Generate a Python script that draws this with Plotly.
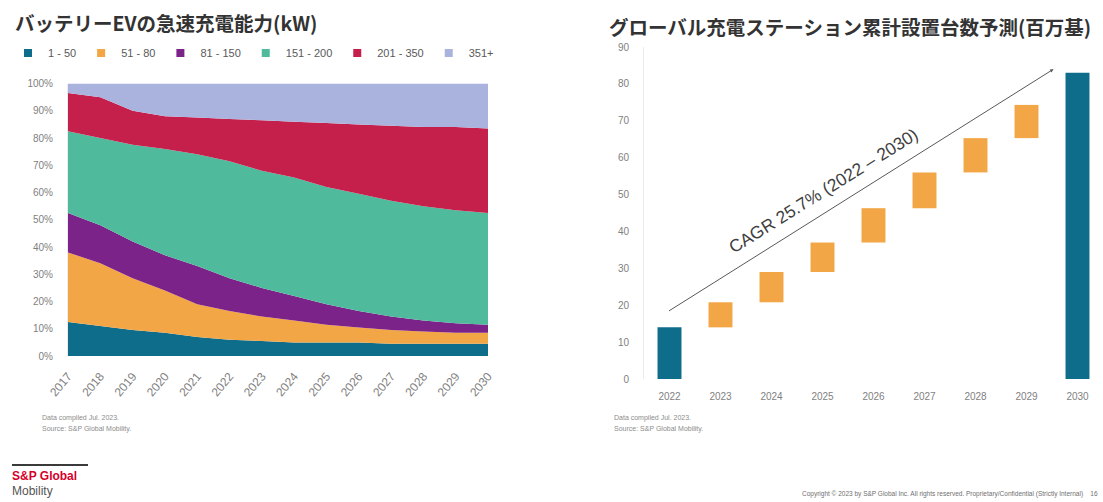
import plotly.graph_objects as go

# ---- Left: share of BEV models by DC fast-charging power (kW) ----
years = [str(y) for y in range(2017, 2031)]
band_labels = ["1 - 50", "51 - 80", "81 - 150", "151 - 200", "201 - 350", "351+"]
band_colors = ["#0f6d8c", "#f3a646", "#7b2388", "#4fbb9c", "#c51f4c", "#aab3dd"]

share_1_50 = [12.5, 11, 9.5, 8.5, 7, 6, 5.5, 5, 5, 5, 4.5, 4.5, 4.5, 4.5]
share_51_80 = [25.5, 23, 19, 15.5, 12, 10.5, 9, 8, 6.5, 5.5, 5, 4.5, 4, 4]
share_81_150 = [14.5, 14, 13.5, 13, 14, 12, 10.5, 9, 7.5, 6, 5, 4, 3.5, 3]
share_151_200 = [30, 32, 35.5, 39, 41, 43, 43, 43.5, 43, 43, 42.5, 42, 41.5, 41]
share_201_350 = [14, 15, 12.5, 12, 13.5, 15.5, 18.5, 20.5, 23.5, 25.5, 27.5, 29, 30.5, 31]
share_351_up = [3.5, 5, 10, 12, 12.5, 13, 13.5, 14, 14.5, 15, 15.5, 16, 16, 16.5]
shares = [share_1_50, share_51_80, share_81_150, share_151_200, share_201_350, share_351_up]
pct_ticks = list(range(0, 101, 10))
pct_labels = [f"{v}%" for v in pct_ticks]

# ---- Right: cumulative global charging stations (millions) ----
station_years = ["2022", "2023", "2024", "2025", "2026", "2027", "2028", "2029", "2030"]
station_totals = [14, 20.8, 29, 37, 46.3, 56, 65.3, 74.3, 83]
station_ticks = list(range(0, 91, 10))
cagr_text = "CAGR 25.7% (2022 – 2030)"

W, H = 1103, 502
px = lambda x: x / W
py = lambda y: 1 - y / H

TEAL = "#0f6d8c"
ORANGE = "#f3a646"
GRAY = "#7f7f7f"
FONT = "Noto Sans CJK JP"


def note(fig, x, y, text, size, color, family="Liberation Sans", xanchor="left", **kw):
    fig.add_annotation(
        x=px(x), y=py(y), xref="paper", yref="paper",
        xanchor=xanchor, yanchor="middle", text=text, showarrow=False,
        font=dict(family=family, size=size, color=color), **kw,
    )


fig = go.Figure()

for label, color, vals in zip(band_labels, band_colors, shares):
    fig.add_trace(go.Scatter(
        x=years, y=vals, stackgroup="share", mode="none",
        fillcolor=color, name=label, showlegend=False,
        xaxis="x", yaxis="y", hoverinfo="x+y+name",
    ))
    # small square swatch for the legend
    fig.add_trace(go.Scatter(
        x=[None], y=[None], mode="markers", name=label,
        marker=dict(symbol="square", size=8, color=color),
        xaxis="x", yaxis="y", showlegend=True,
    ))

# waterfall-style bars: first and last are totals, the rest are yearly increments
bar_base, bar_len, bar_col = [], [], []
for i, total in enumerate(station_totals):
    if i == 0 or i == len(station_totals) - 1:
        bar_base.append(0)
        bar_len.append(total)
        bar_col.append(TEAL)
    else:
        bar_base.append(station_totals[i - 1])
        bar_len.append(total - station_totals[i - 1])
        bar_col.append(ORANGE)

fig.add_trace(go.Bar(
    x=station_years, y=bar_len, base=bar_base, marker_color=bar_col,
    marker_line_width=0, width=0.47, showlegend=False,
    xaxis="x2", yaxis="y2",
))

# CAGR guide line with arrow
fig.add_annotation(
    x=len(station_years) - 1.47, y=station_totals[-1] + 1,
    ax=-0.04, ay=station_totals[0] + 4.2,
    xref="x2", yref="y2", axref="x2", ayref="y2",
    text="", showarrow=True, arrowhead=2, arrowsize=0.7,
    arrowwidth=1, arrowcolor="#595959",
)
note(fig, 823, 191, cagr_text, 17.5, "#404040", xanchor="center", textangle=-32)

# titles
note(fig, 13, 23, "<b>バッテリーEVの急速充電能力(kW)</b>", 19.5, "#333333", family=FONT)
note(fig, 607, 27, "<b>グローバル充電ステーション累計設置台数予測(百万基)</b>", 19.5, "#333333", family=FONT)

# source notes
for x0 in (40, 612):
    note(fig, x0, 418, "Data compiled Jul. 2023.", 7, "#8c8c8c")
    note(fig, x0, 429, "Source: S&amp;P Global Mobility.", 7, "#8c8c8c")

# logo block
fig.add_shape(type="line", xref="paper", yref="paper",
              x0=px(12), x1=px(88), y0=py(465), y1=py(465),
              line=dict(color="#3a3a3a", width=2))
note(fig, 10, 476, "<b>S&amp;P Global</b>", 12, "#d6002a")
note(fig, 10, 491, "Mobility", 12, "#555555")
note(fig, 1100, 494,
     "Copyright © 2023 by S&amp;P Global Inc. All rights reserved. Proprietary/Confidential (Strictly Internal)&nbsp;&nbsp;&nbsp;&nbsp;16",
     6.5, "#6f6f6f", xanchor="right")

fig.update_layout(
    width=W, height=H,
    margin=dict(l=0, r=0, t=0, b=0, autoexpand=False),
    paper_bgcolor="white", plot_bgcolor="white",
    font=dict(family=FONT, color=GRAY),
    legend=dict(
        orientation="h", x=px(8), y=py(53), xanchor="left", yanchor="middle",
        font=dict(size=11, color="#595959", family="Liberation Sans"), itemwidth=30,
        traceorder="normal", bgcolor="rgba(0,0,0,0)",
    ),
    xaxis=dict(
        domain=[px(68), px(488)], anchor="y", type="category", automargin=False,
        range=[0, len(years) - 1], showgrid=False, zeroline=False,
        tickangle=-50, tickfont=dict(size=12, color=GRAY, family="Liberation Sans"),
        ticks="", showline=False, fixedrange=True, ticklabelstandoff=10,
    ),
    yaxis=dict(
        domain=[py(356), py(83.5)], anchor="x", automargin=False,
        range=[0, 100], tickmode="array", tickvals=pct_ticks, ticktext=pct_labels,
        showgrid=False, zeroline=False, showline=True, linecolor="#ececec",
        tickfont=dict(size=10, color=GRAY, family="Liberation Sans"),
        ticklabelstandoff=12,
    ),
    xaxis2=dict(
        domain=[px(644), 1.0], anchor="y2", type="category", automargin=False,
        range=[-0.5, len(station_years) - 0.5], showgrid=False, zeroline=False,
        tickfont=dict(size=10, color=GRAY, family="Liberation Sans"),
        ticks="", showline=False, ticklabelstandoff=10,
    ),
    yaxis2=dict(
        domain=[py(379), py(47)], anchor="x2", automargin=False,
        range=[0, 90], tickvals=station_ticks,
        showgrid=False, zeroline=False, showline=True, linecolor="#ececec",
        tickfont=dict(size=10, color=GRAY, family="Liberation Sans"),
        ticklabelstandoff=12,
    ),
)

fig.write_html("out.html")
